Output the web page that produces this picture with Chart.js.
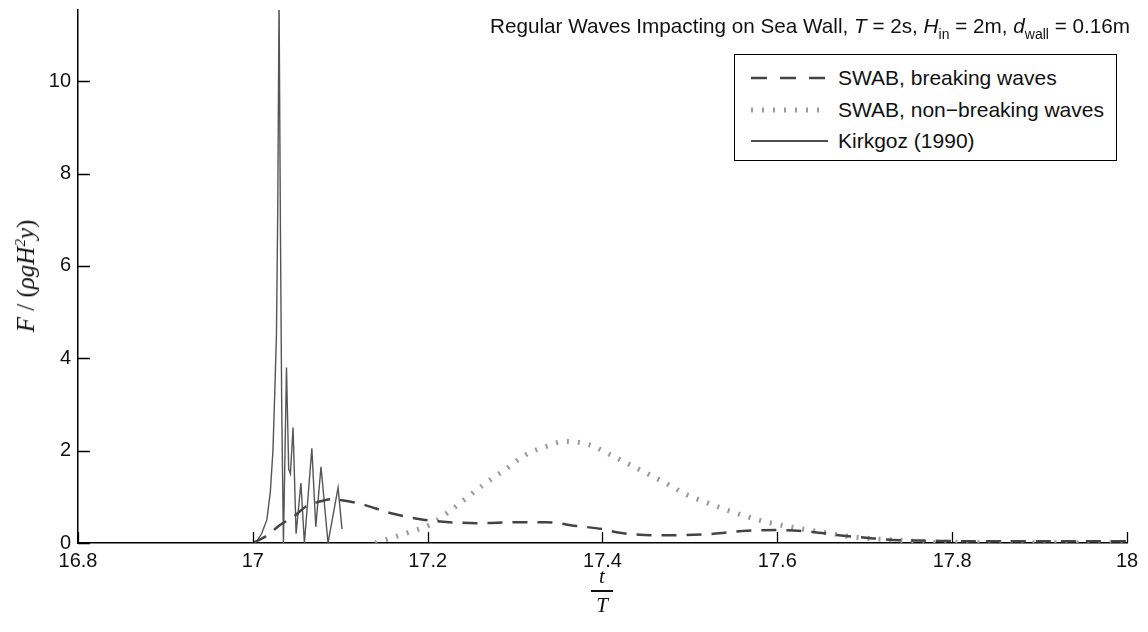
<!DOCTYPE html>
<html>
<head>
<meta charset="utf-8">
<script src="https://cdn.jsdelivr.net/npm/chart.js@4.4.1/dist/chart.umd.min.js"></script>
<style>
  html,body{margin:0;padding:0;background:#fff;}
  #wrap{position:relative;width:1148px;height:632px;overflow:hidden;background:#fff;}
  #c{position:absolute;left:0;top:0;}
  .sans{font-family:"Liberation Sans",Arial,Helvetica,sans-serif;color:#111;}
  .serif{font-family:"Liberation Serif","DejaVu Serif",serif;color:#111;}
  #title{position:absolute;right:18px;top:16px;font-size:20.7px;line-height:20px;white-space:nowrap;}
  #title sub{font-size:14px;vertical-align:-6px;line-height:0;}
  #legend{position:absolute;left:734px;top:54px;width:383px;height:107px;border:1.3px solid #000;box-sizing:border-box;background:#fff;}
  .row{position:absolute;left:0;height:24px;width:100%;}
  .row svg{position:absolute;left:14px;top:0;}
  .row span{position:absolute;left:103px;top:0px;font-size:21px;line-height:22px;white-space:nowrap;}
  #ylab{position:absolute;left:26px;top:276px;transform:translate(-50%,-50%) rotate(-90deg);font-size:25px;white-space:nowrap;}
  #ylab sup{font-size:15px;vertical-align:9px;line-height:0;}
  #xlab{position:absolute;left:602px;top:566px;transform:translateX(-50%);display:flex;flex-direction:column;align-items:center;font-size:21px;line-height:20px;}
  #xlab .bar{width:22px;height:1.6px;background:#111;margin:4px 0 3px 0;}
</style>
</head>
<body>
<div id="wrap">
  <canvas id="c" width="1148" height="632"></canvas>
  <div id="title" class="sans">Regular Waves Impacting on Sea Wall, <i>T</i> = 2s, <i>H</i><sub>in</sub> = 2m, <i>d</i><sub>wall</sub> = 0.16m</div>
  <div id="legend" class="sans">
    <div class="row" style="top:12px"><svg width="82" height="24"><line x1="2" y1="11" x2="79" y2="11" stroke="#444" stroke-width="2.5" stroke-dasharray="16 13"/></svg><span>SWAB, breaking waves</span></div>
    <div class="row" style="top:44px"><svg width="82" height="24"><line x1="2" y1="11" x2="79" y2="11" stroke="#9a9a9a" stroke-width="5" stroke-dasharray="2 9"/></svg><span>SWAB, non−breaking waves</span></div>
    <div class="row" style="top:75px"><svg width="82" height="24"><line x1="2" y1="11" x2="79" y2="11" stroke="#111" stroke-width="1.3"/></svg><span>Kirkgoz (1990)</span></div>
  </div>
  <div id="ylab" class="serif"><i>F</i> / (<i>ρgH</i><sup><i>2</i></sup><i>y</i>)</div>
  <div id="xlab" class="serif"><i>t</i><div class="bar"></div><i>T</i></div>
</div>
<script>
// ---- data ----
const seriesNames = ["SWAB, breaking waves", "SWAB, non−breaking waves", "Kirkgoz (1990)"];

const tBreaking = [17.0, 17.017, 17.031, 17.046, 17.06, 17.075, 17.09, 17.10, 17.123, 17.157, 17.19, 17.225, 17.26, 17.30, 17.335, 17.37, 17.40, 17.42, 17.457, 17.49, 17.527, 17.56, 17.60, 17.64, 17.67, 17.71, 17.74, 17.775, 17.81, 17.9, 18.0];
const fBreaking = [0, 0.17, 0.39, 0.56, 0.78, 0.89, 0.95, 0.93, 0.85, 0.65, 0.52, 0.45, 0.43, 0.45, 0.45, 0.37, 0.30, 0.22, 0.17, 0.17, 0.20, 0.26, 0.28, 0.24, 0.17, 0.10, 0.06, 0.05, 0.04, 0.04, 0.04];

const tNonBreaking = [17.14, 17.157, 17.18, 17.203, 17.226, 17.246, 17.268, 17.291, 17.311, 17.337, 17.357, 17.386, 17.412, 17.437, 17.472, 17.497, 17.527, 17.552, 17.578, 17.603, 17.623, 17.657, 17.687, 17.74, 17.775, 17.832, 18.0];
const fNonBreaking = [0, 0.10, 0.24, 0.40, 0.70, 1.00, 1.32, 1.62, 1.90, 2.10, 2.20, 2.12, 1.88, 1.64, 1.30, 1.04, 0.82, 0.65, 0.50, 0.39, 0.32, 0.22, 0.13, 0.06, 0.02, 0.01, 0];

const tKirkgoz = [17.000, 17.005, 17.010, 17.016, 17.020, 17.023, 17.025, 17.027, 17.0285, 17.030, 17.0315, 17.033, 17.035, 17.0385, 17.041, 17.043, 17.046, 17.0495, 17.055, 17.059, 17.0675, 17.072, 17.078, 17.086, 17.0975, 17.102];
const fKirkgoz = [0, 0.05, 0.2, 0.5, 1.1, 2.0, 3.2, 4.5, 7.2, 11.8, 7.0, 3.0, 0, 3.8, 1.6, 1.5, 2.5, 0.2, 1.3, 0, 2.05, 0.35, 1.65, 0, 1.2, 0.3];

const xTickValues = [16.8, 17.0, 17.2, 17.4, 17.6, 17.8, 18.0];
const xTickLabels = ["16.8", "17", "17.2", "17.4", "17.6", "17.8", "18"];
const yTickValues = [0, 2, 4, 6, 8, 10];
const yTickLabels = ["0", "2", "4", "6", "8", "10"];

const toPts = (xs, ys) => xs.map((x, i) => ({x: x, y: ys[i]}));

const inwardTicks = {
  id: 'inwardTicks',
  afterDatasetsDraw(chart) {
    const {ctx, chartArea: a, scales: {x, y}} = chart;
    ctx.save();
    ctx.strokeStyle = '#000';
    ctx.lineWidth = 1.3;
    ctx.beginPath();
    x.ticks.forEach(t => { const px = Math.round(x.getPixelForValue(t.value)) + 0.5; ctx.moveTo(px, a.bottom); ctx.lineTo(px, a.bottom - 11); });
    y.ticks.forEach(t => { const py = Math.round(y.getPixelForValue(t.value)) + 0.5; ctx.moveTo(a.left, py); ctx.lineTo(a.left + 12, py); });
    ctx.stroke();
    ctx.restore();
  }
};

const tickFont = {family: '"Liberation Sans", Arial, sans-serif', size: 20};

new Chart(document.getElementById('c'), {
  type: 'scatter',
  data: {
    datasets: [
      {label: seriesNames[2], data: toPts(tKirkgoz, fKirkgoz), showLine: true, borderColor: '#555', borderWidth: 1.4, pointRadius: 0, tension: 0, order: 3},
      {label: seriesNames[1], data: toPts(tNonBreaking, fNonBreaking), showLine: true, borderColor: '#9a9a9a', borderWidth: 5, borderDash: [2, 9], borderCapStyle: 'butt', pointRadius: 0, cubicInterpolationMode: 'monotone', order: 2},
      {label: seriesNames[0], data: toPts(tBreaking, fBreaking), showLine: true, borderColor: '#444', borderWidth: 2.5, borderDash: [15, 10], pointRadius: 0, cubicInterpolationMode: 'monotone', order: 1}
    ]
  },
  options: {
    responsive: false,
    animation: false,
    devicePixelRatio: 1,
    layout: {padding: {top: 10, right: 21, left: 0, bottom: 0}},
    plugins: {legend: {display: false}, title: {display: false}, tooltip: {enabled: false}},
    scales: {
      x: {
        type: 'linear', min: 16.8, max: 18.0,
        grid: {display: false, drawTicks: false, tickLength: 0},
        border: {display: true, color: '#000', width: 1.5},
        afterBuildTicks: s => { s.ticks = xTickValues.map(v => ({value: v})); },
        afterFit: s => { s.height = 89; s.paddingLeft = 0; s.paddingRight = 0; },
        ticks: {color: '#111', font: tickFont, padding: 6, maxRotation: 0, autoSkip: false,
          callback: (v) => { const i = xTickValues.findIndex(t => Math.abs(t - v) < 1e-6); return i >= 0 ? xTickLabels[i] : ''; }}
      },
      y: {
        type: 'linear', min: 0, max: 11.54,
        grid: {display: false, drawTicks: false, tickLength: 0},
        border: {display: true, color: '#000', width: 1.5},
        afterBuildTicks: s => { s.ticks = yTickValues.map(v => ({value: v})); },
        afterFit: s => { s.width = 78; s.paddingTop = 0; s.paddingBottom = 0; },
        ticks: {color: '#111', font: tickFont, padding: 7, autoSkip: false,
          callback: (v) => { const i = yTickValues.indexOf(v); return i >= 0 ? yTickLabels[i] : ''; }}
      }
    }
  },
  plugins: [inwardTicks]
});
</script>
</body>
</html>
